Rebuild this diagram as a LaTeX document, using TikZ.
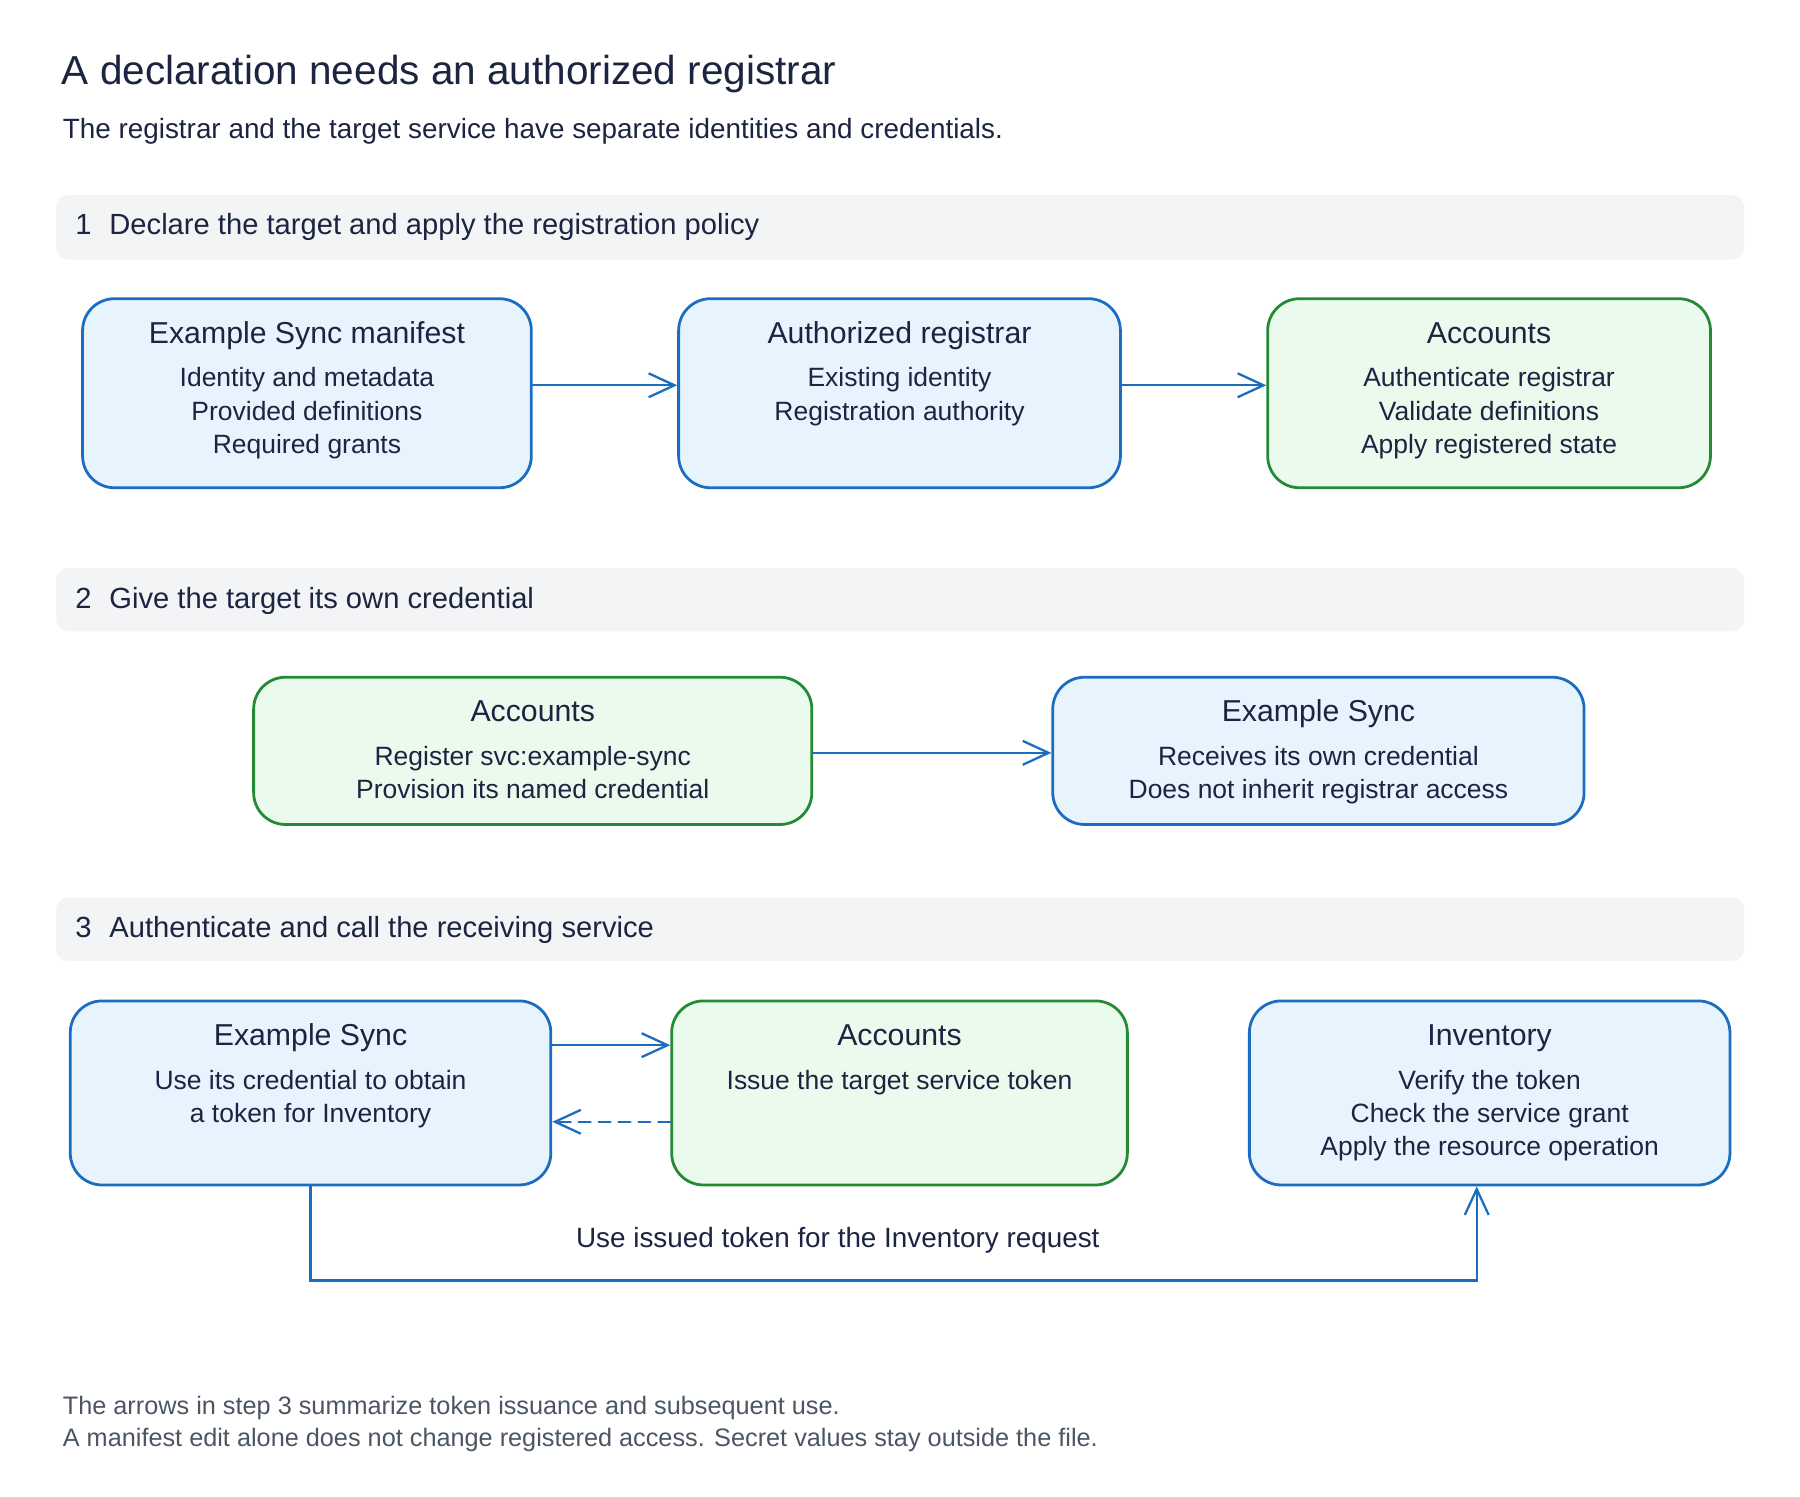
\documentclass[tikz,border=0pt]{standalone}
\usepackage{fontspec}
\setmainfont{Liberation Sans}
\usetikzlibrary{arrows.meta,calc}

\definecolor{ink}{HTML}{1B2440}
\definecolor{notegray}{HTML}{4B5563}
\definecolor{bandgray}{HTML}{F3F4F6}
\definecolor{lineblue}{HTML}{1C6DC0}
\definecolor{fillblue}{HTML}{E7F4FE}
\definecolor{linegreen}{HTML}{248A35}
\definecolor{fillgreen}{HTML}{EAFBEE}

\tikzset{
  card/.style={draw, rounded corners=32pt, line width=2.8pt, inner sep=0pt},
  bluecard/.style={card, draw=lineblue, fill=fillblue},
  greencard/.style={card, draw=linegreen, fill=fillgreen},
  cardtitle/.style={anchor=base, text=ink, inner sep=0pt, font=\fontsize{30.4}{36}\selectfont},
  cardline/.style={anchor=base, text=ink, inner sep=0pt, font=\fontsize{26.6}{32}\selectfont},
  band/.style={fill=bandgray, rounded corners=12pt},
  bandtext/.style={anchor=base west, text=ink, inner sep=0pt, font=\fontsize{29.3}{35}\selectfont},
  flow/.style={draw=lineblue, line width=2.3pt, line cap=round,
    -{Straight Barb[length=26pt,width=24pt]}},
  note/.style={anchor=base west, text=notegray, inner sep=0pt, font=\fontsize{25.4}{31}\selectfont},
}

\begin{document}
\begin{tikzpicture}[x=1pt, y=-1pt]
    \useasboundingbox (0,0) rectangle (1809,1503.5);

    % Heading
    \node[anchor=base west, text=ink, inner sep=0pt, font=\fontsize{40.7}{48}\selectfont]
        (title) at (62,85) {A declaration needs an authorized registrar};
    \node[anchor=base west, text=ink, inner sep=0pt, font=\fontsize{28}{34}\selectfont]
        (subtitle) at (63,139.5) {The registrar and the target service have separate identities and credentials.};

    % Bands
    \fill[band] (56.5,196) rectangle (1752.7,261);
    \fill[band] (56.5,571) rectangle (1752.7,634.6);
    \fill[band] (56.5,902) rectangle (1752.7,965.8);
    \node[bandtext] (band1) at (75.5,235.5) {1\hspace{18pt}Declare the target and apply the registration policy};
    \node[bandtext] (band2) at (75.5,611.5) {2\hspace{18pt}Give the target its own credential};
    \node[bandtext] (band3) at (75.5,942.5) {3\hspace{18pt}Authenticate and call the receiving service};

    % Row # 1
    \node[bluecard, minimum width=451pt, minimum height=190pt] (manifest) at (308.5,395.2) {};
    \node[cardtitle] (manifest-t) at ($(manifest.north)+(0,46)$) {Example Sync manifest};
    \foreach \t [count=\i] in {Identity and metadata, Provided definitions, Required grants}
        \node[cardline] (manifest-\i) at ($(manifest.north)+(0,56.5+33.5*\i)$) {\t};

    \node[bluecard, minimum width=444pt, minimum height=190pt] (registrar) at (904,395.2) {};
    \node[cardtitle] (registrar-t) at ($(registrar.north)+(0,46)$) {Authorized registrar};
    \foreach \t [count=\i] in {Existing identity, Registration authority}
        \node[cardline] (registrar-\i) at ($(registrar.north)+(0,56.5+33.5*\i)$) {\t};

    \node[greencard, minimum width=445pt, minimum height=190pt] (accounts1) at (1496.5,395.2) {};
    \node[cardtitle] (accounts1-t) at ($(accounts1.north)+(0,46)$) {Accounts};
    \foreach \t [count=\i] in {Authenticate registrar, Validate definitions, Apply registered state}
        \node[cardline] (accounts1-\i) at ($(accounts1.north)+(0,56.5+33.5*\i)$) {\t};

    \draw[flow] ([yshift=8pt]manifest.east) -- ([yshift=8pt]registrar.west);
    \draw[flow] ([yshift=8pt]registrar.east) -- ([yshift=8pt]accounts1.west);

    % Row # 2
    \node[greencard, minimum width=561pt, minimum height=148pt] (accounts2) at (535.4,754.6) {};
    \node[cardtitle] (accounts2-t) at ($(accounts2.north)+(0,46)$) {Accounts};
    \foreach \t [count=\i] in {Register svc:example-sync, Provision its named credential}
        \node[cardline] (accounts2-\i) at ($(accounts2.north)+(0,56.5+33.5*\i)$) {\t};

    \node[bluecard, minimum width=534pt, minimum height=148pt] (sync2) at (1325,754.6) {};
    \node[cardtitle] (sync2-t) at ($(sync2.north)+(0,46)$) {Example Sync};
    \foreach \t [count=\i] in {Receives its own credential, Does not inherit registrar access}
        \node[cardline] (sync2-\i) at ($(sync2.north)+(0,56.5+33.5*\i)$) {\t};

    \draw[flow] ([yshift=-2pt]accounts2.east) -- ([yshift=-2pt]sync2.west);

    % Row # 3
    \node[bluecard, minimum width=483pt, minimum height=185pt] (sync3) at (312.1,1098.4) {};
    \node[cardtitle] (sync3-t) at ($(sync3.north)+(0,46)$) {Example Sync};
    \foreach \t [count=\i] in {Use its credential to obtain, a token for Inventory}
        \node[cardline] (sync3-\i) at ($(sync3.north)+(0,56.5+33.5*\i)$) {\t};

    \node[greencard, minimum width=458pt, minimum height=185pt] (accounts3) at (904,1098.4) {};
    \node[cardtitle] (accounts3-t) at ($(accounts3.north)+(0,46)$) {Accounts};
    \node[cardline] (accounts3-1) at ($(accounts3.north)+(0,90)$) {Issue the target service token};

    \node[bluecard, minimum width=483pt, minimum height=185pt] (inventory) at (1497.1,1098.4) {};
    \node[cardtitle] (inventory-t) at ($(inventory.north)+(0,46)$) {Inventory};
    \foreach \t [count=\i] in {Verify the token, Check the service grant, Apply the resource operation}
        \node[cardline] (inventory-\i) at ($(inventory.north)+(0,56.5+33.5*\i)$) {\t};

    \draw[flow] ([yshift=48pt]sync3.east) -- ([yshift=48pt]accounts3.west);
    \draw[flow, dash pattern=on 12pt off 8pt] ([yshift=-29pt]accounts3.west) -- ([yshift=-29pt]sync3.east);
    \draw[flow] (sync3.south) -- ++(0,94.7) -| ([xshift=-13pt]inventory.south);
    \node[anchor=base, text=ink, inner sep=0pt, font=\fontsize{28}{34}\selectfont]
        (uselabel) at (842,1254) {Use issued token for the Inventory request};

    % Notes
    \node[note] (note1) at (63,1421.5) {The arrows in step 3 summarize token issuance and subsequent use.};
    \node[note] (note2) at (63,1454) {A manifest edit alone does not change registered access. Secret values stay outside the file.};

\end{tikzpicture}
\end{document}
